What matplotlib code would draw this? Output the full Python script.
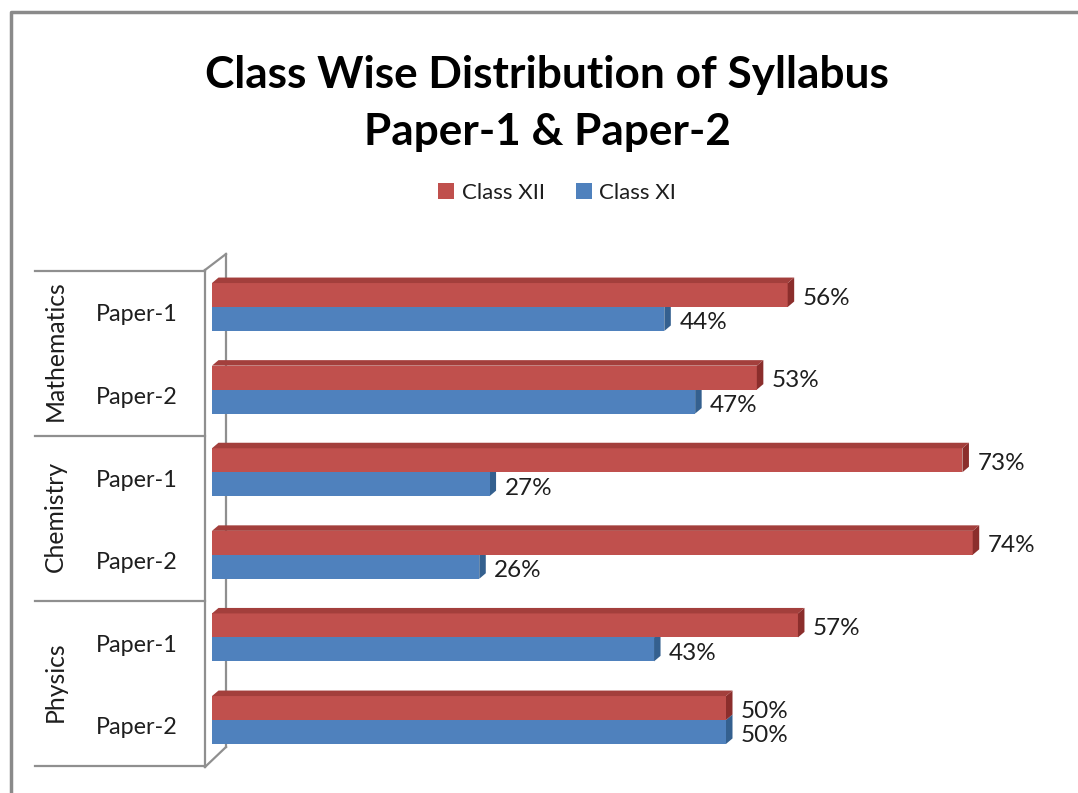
import matplotlib
matplotlib.use("Agg")
import matplotlib.pyplot as plt
from matplotlib.lines import Line2D
from matplotlib.patches import Polygon

plt.rcParams['font.family'] = ['Lato', 'DejaVu Sans']

# ---- data ----
groups = ["Mathematics", "Chemistry", "Physics"]
papers = ["Paper-1", "Paper-2", "Paper-1", "Paper-2", "Paper-1", "Paper-2"]
class_xii = [56, 53, 73, 74, 57, 50]
class_xi = [44, 47, 27, 26, 43, 50]
series_names = ["Class XII", "Class XI"]
title_lines = ["Class Wise Distribution of Syllabus", "Paper-1 & Paper-2"]

RED = "#c0504d"
RED_TOP = "#a33f3c"
RED_SIDE = "#8b2e2c"
BLUE = "#4f81bd"
BLUE_SIDE = "#34608f"
GRID = "#8f8f8f"
TXT = "#1e1e1e"

W, H = 1078, 793
fig = plt.figure(figsize=(W / 100, H / 100), dpi=100)
fig.patch.set_facecolor("white")

def fx(px):
    return px / W

def fy(py):
    return 1 - py / H

# outer frame
fig.add_artist(Line2D([fx(10.5), fx(10.5), fx(1078)], [fy(793), fy(11.5), fy(11.5)],
                      color="#8a8a8a", lw=2.5, transform=fig.transFigure))

# axes placement
x_px0, px_per_pct = 212, 10.28
xmax = 80
ax_top, ax_bot = 265.7, 761.3
ax = fig.add_axes([fx(x_px0), fy(ax_bot), xmax * px_per_pct / W, (ax_bot - ax_top) / H])
ax.set_xlim(0, xmax)
n = len(papers)
ax.set_ylim(n - 0.5, -0.5)
for s in ax.spines.values():
    s.set_visible(False)
ax.set_xticks([])
ax.patch.set_alpha(0)

h = 0.29
ypos = list(range(n))
red_bars = ax.barh([y - h / 2 for y in ypos], class_xii, height=h, color=RED, zorder=3,
                   label=series_names[0])
blue_bars = ax.barh([y + h / 2 for y in ypos], class_xi, height=h, color=BLUE, zorder=2,
                    label=series_names[1])

# 3D depth in data units
ppx = ax.bbox.width / xmax
ppy = ax.bbox.height / n
ddx = 6.5 / ppx
ddy = 5.5 / ppy

def add_faces(bars, side_color, top_color, z_side, z_top):
    for p in bars:
        x0 = p.get_x()
        x1 = x0 + p.get_width()
        yt = p.get_y()
        yb = yt + p.get_height()
        side = Polygon([(x1, yt), (x1 + ddx, yt - ddy), (x1 + ddx, yb - ddy), (x1, yb)],
                       closed=True, facecolor=side_color, edgecolor="none", zorder=z_side)
        ax.add_patch(side)
        if top_color is not None:
            top = Polygon([(x0, yt), (x0 + ddx, yt - ddy), (x1 + ddx, yt - ddy), (x1, yt)],
                          closed=True, facecolor=top_color, edgecolor="none", zorder=z_top)
            ax.add_patch(top)

add_faces(blue_bars, BLUE_SIDE, None, 1, 1)
add_faces(red_bars, RED_SIDE, RED_TOP, 3, 3)

# data labels
lab_off = 15 / ppx
for p, v in zip(red_bars, class_xii):
    ax.text(p.get_x() + p.get_width() + lab_off, p.get_y() + p.get_height() / 2 + 3 / ppy,
            f"{v}%", va="center", ha="left", fontsize=17.5, color=TXT, zorder=5)
for p, v in zip(blue_bars, class_xi):
    ax.text(p.get_x() + p.get_width() + lab_off, p.get_y() + p.get_height() / 2 + 4 / ppy,
            f"{v}%", va="center", ha="left", fontsize=17.5, color=TXT, zorder=5)

# category tick labels
ax.set_yticks([y + 6 / ppy for y in ypos])
ax.set_yticklabels(papers, fontsize=16.8, color=TXT)
ax.tick_params(axis="y", length=0, pad=(x_px0 - 178) * 0.72)

# 3D axis walls and group separators (figure pixels)
def fline(xs, ys):
    fig.add_artist(Line2D([fx(x) for x in xs], [fy(y) for y in ys], color=GRID, lw=1.6,
                          transform=fig.transFigure, zorder=0))

front_x, back_x = 205, 226
top_front, bot_front = 270, 767
fline([front_x, front_x], [top_front, bot_front])
fline([front_x, back_x], [top_front, top_front - 16])
fline([front_x, back_x], [bot_front, bot_front - 20])
fline([back_x, back_x], [top_front - 16, bot_front - 20])
n_groups = len(groups)
per = n // n_groups
for g in range(n_groups + 1):
    yb = g * per - 0.5
    py = ax.transData.transform((0, yb))[1]
    py = H - py + 5
    fline([35, front_x], [py, py])

# group labels
for g, name in enumerate(groups):
    yc = g * per + (per - 1) / 2 + 0.5 / ppy * 5
    py = H - ax.transData.transform((0, yc))[1]
    fig.text(fx(55), fy(py), name, rotation=90, ha="center", va="center",
             fontsize=17.8, color=TXT)

# title
fig.text(fx(547), fy(88), title_lines[0], ha="center", va="baseline", fontsize=31.8,
         fontweight="bold", color="black")
fig.text(fx(547), fy(145), title_lines[1], ha="center", va="baseline", fontsize=31.8,
         fontweight="bold", color="black")

# legend
fig.legend(handles=[red_bars, blue_bars], labels=series_names, loc="center",
           bbox_to_anchor=(fx(557), fy(193)), ncol=2, frameon=False, fontsize=16,
           handlelength=0.72, handleheight=0.72, handletextpad=0.35, columnspacing=1.4,
           labelcolor=TXT)

fig.savefig("out.png", dpi=100, facecolor="white")
